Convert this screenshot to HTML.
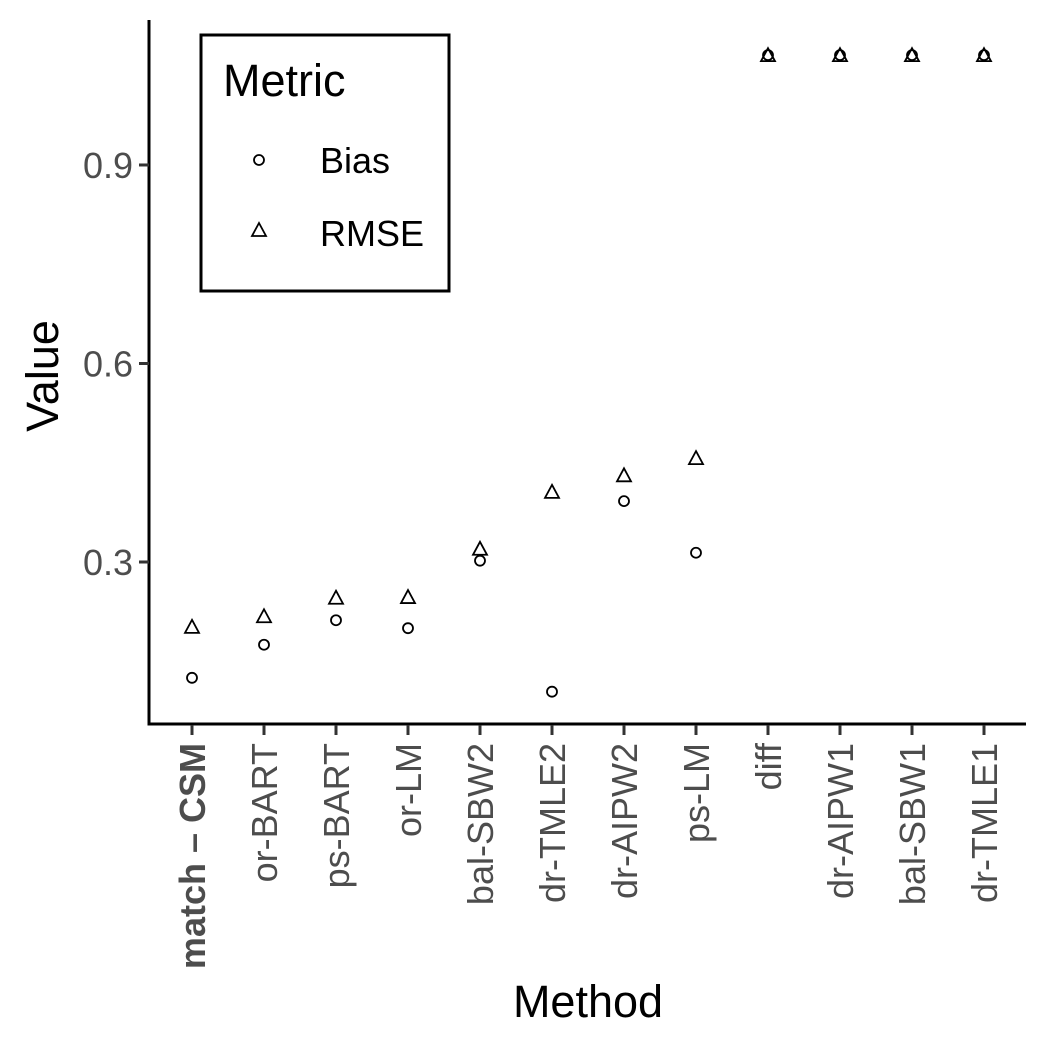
<!DOCTYPE html>
<html><head><meta charset="utf-8"><style>body{margin:0;background:#fff}svg{display:block}text{font-family:"Liberation Sans",Arial,sans-serif}</style></head>
<body>
<svg id="chart" width="1050" height="1050" viewBox="0 0 1050 1050">
<rect width="1050" height="1050" fill="#fff"/>
<g id="marks"></g>
<line x1="149" y1="20" x2="149" y2="725" stroke="#000" stroke-width="3"/>
<line x1="147.5" y1="724" x2="1026" y2="724" stroke="#000" stroke-width="3"/>
<g id="yticks"></g>
<g id="xticks"></g>
<text x="588" y="1017" font-size="45" text-anchor="middle">Method</text>
<text transform="translate(58,376) rotate(-90)" font-size="45" text-anchor="middle">Value</text>
<g>
<rect x="201" y="35" width="248" height="256" fill="#fff" stroke="#000" stroke-width="3"/>
<text x="223" y="96" font-size="45">Metric</text>
<circle cx="259" cy="160" r="5" fill="none" stroke="#000" stroke-width="1.8"/>
<text x="320" y="173" font-size="36">Bias</text>
<polygon points="259,223 266,236 252,236" fill="none" stroke="#000" stroke-width="1.8"/>
<text x="320" y="246" font-size="36">RMSE</text>
</g>
</svg>
<script>
const categories=["match – CSM","or-BART","ps-BART","or-LM","bal-SBW2","dr-TMLE2","dr-AIPW2","ps-LM","diff","dr-AIPW1","bal-SBW1","dr-TMLE1"];
const bias=[0.125,0.175,0.212,0.2,0.302,0.104,0.392,0.314,1.066,1.066,1.066,1.066];
const rmse=[0.202,0.218,0.246,0.247,0.32,0.406,0.431,0.457,1.066,1.066,1.066,1.066];
const yTicks=[0.3,0.6,0.9];
const yTickLabels=["0.3","0.6","0.9"];
const NS="http://www.w3.org/2000/svg";
function xs(i){return 192+i*72;}
function ys(v){return 562-(v-0.3)*661.7;}
function mk(tag,attrs,parent){const e=document.createElementNS(NS,tag);for(const k in attrs)e.setAttribute(k,attrs[k]);parent.appendChild(e);return e;}
const marks=document.getElementById('marks'),yt=document.getElementById('yticks'),xt=document.getElementById('xticks');
yTicks.forEach((v,i)=>{
 const l=mk('line',{x1:139,x2:149,y1:ys(v),y2:ys(v),stroke:'#333','stroke-width':3},yt);
 
 
 const t=mk('text',{x:133,y:ys(v)+13,'font-size':36,'text-anchor':'end',fill:'#4d4d4d'},yt);
 t.textContent=yTickLabels[i];
 
 
});
categories.forEach((c,i)=>{
 const x=xs(i);
 const l=mk('line',{x1:x,x2:x,y1:725,y2:735,stroke:'#333','stroke-width':3},xt);
 
 
 const t=mk('text',{transform:`translate(${x+13},743) rotate(-90)`,'font-size':36,'text-anchor':'end',fill:'#4d4d4d','font-weight':i===0?'bold':'normal'},xt);
 t.textContent=c;
 
 
 const cy=ys(bias[i]);
 const ci=mk('circle',{cx:x,cy:cy,r:5,fill:'none',stroke:'#000','stroke-width':1.8},marks);
 
 
 const ty=ys(rmse[i]);
 const tr=mk('polygon',{points:`${x},${ty-7} ${x+7},${ty+6} ${x-7},${ty+6}`,fill:'none',stroke:'#000','stroke-width':1.8},marks);
 
 
});
</script>
</body></html>
